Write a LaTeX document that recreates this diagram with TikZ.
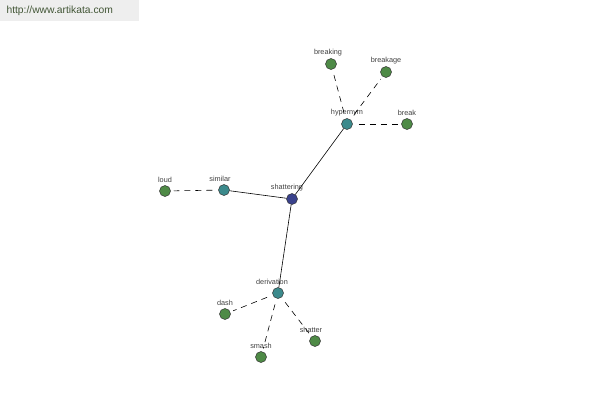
\documentclass[tikz,border=0pt]{standalone}
\usepackage{fontspec}
\setmainfont{Liberation Sans}
\definecolor{hubblue}{RGB}{58,66,140}
\definecolor{midteal}{RGB}{60,138,140}
\definecolor{leafgreen}{RGB}{78,138,70}
\definecolor{urltext}{RGB}{66,86,54}
\definecolor{urlback}{RGB}{238,238,238}
\begin{document}
\begin{tikzpicture}[x=1pt,y=-1pt,
   dot/.style={circle,draw=black!80,line width=.5pt,minimum size=11pt,inner sep=0pt},
   hub/.style={dot,fill=hubblue},
   mid/.style={dot,fill=midteal},
   leaf/.style={dot,fill=leafgreen},
   lbl/.style={font=\fontsize{7.3}{8}\selectfont,text=black!75,inner sep=1pt,label distance=1pt},
   rel/.style={line width=.6pt},
   syn/.style={line width=.6pt,dashed,dash pattern=on 6pt off 5pt,shorten <=6pt,shorten >=3pt}]
   \useasboundingbox (0,0) rectangle (600,400);
   \fill[urlback] (0,0) rectangle (139,21);
   \node[text=urltext,font=\fontsize{10.3}{12}\selectfont,anchor=west] (url) at (3,11) {http://www.artikata.com};

   \node[hub,label={[lbl,xshift=-5pt]above:shattering}] (shattering) at (292,199) {};

   \node[mid,label={[lbl]above:hypernym}] (hypernym) at (347,124) {};
   \node[mid,label={[lbl,xshift=-4pt]above:similar}] (similar) at (224,190) {};
   \node[mid,label={[lbl,xshift=-6pt]above:derivation}] (derivation) at (278,293) {};

   \node[leaf,label={[lbl,xshift=-3pt]above:breaking}] (breaking) at (331,64) {};
   \node[leaf,label={[lbl]above:breakage}] (breakage) at (386,72) {};
   \node[leaf,label={[lbl]above:break}] (break) at (407,124) {};
   \node[leaf,label={[lbl]above:loud}] (loud) at (165,191) {};
   \node[leaf,label={[lbl]above:dash}] (dash) at (225,314) {};
   \node[leaf,label={[lbl]above:smash}] (smash) at (261,357) {};
   \node[leaf,label={[lbl,xshift=-4pt]above:shatter}] (shatter) at (315,341) {};

   \draw[rel] (shattering) -- (hypernym);
   \draw[rel] (shattering) -- (similar);
   \draw[rel] (shattering) -- (derivation);

   \draw[syn] (hypernym) -- (breaking);
   \draw[syn] (hypernym) -- (breakage);
   \draw[syn] (hypernym) -- (break);
   \draw[syn] (similar) -- (loud);
   \draw[syn] (derivation) -- (dash);
   \draw[syn] (derivation) -- (smash);
   \draw[syn] (derivation) -- (shatter);
\end{tikzpicture}
\end{document}
